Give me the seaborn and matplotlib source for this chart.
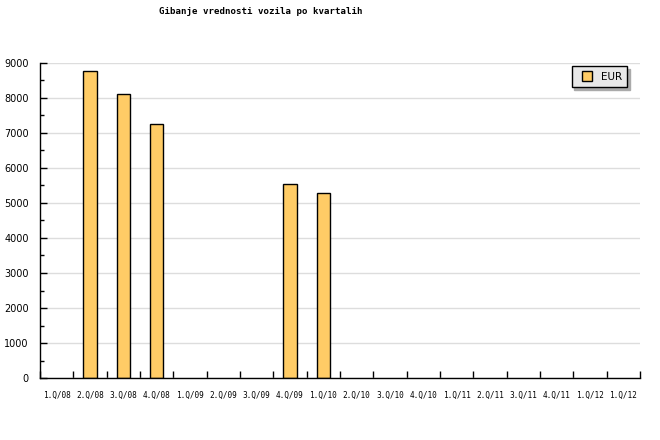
import matplotlib
matplotlib.use("Agg")
import matplotlib.pyplot as plt
import seaborn as sns
import numpy as np
import pandas as pd
from matplotlib.lines import Line2D
from matplotlib.ticker import MultipleLocator, FixedLocator

categories = ["1.Q/08", "2.Q/08", "3.Q/08", "4.Q/08", "1.Q/09", "2.Q/09", "3.Q/09",
              "4.Q/09", "1.Q/10", "2.Q/10", "3.Q/10", "4.Q/10", "1.Q/11", "2.Q/11",
              "3.Q/11", "4.Q/11", "1.Q/12", "1.Q/12"]
eur = [np.nan, 8780, 8115, 7255, np.nan, np.nan, np.nan,
       5535, 5275, np.nan, np.nan, np.nan, np.nan, np.nan,
       np.nan, np.nan, np.nan, np.nan]
series_name = "EUR"
title = "Gibanje vrednosti vozila po kvartalih"

sns.set_style("white")
plt.rcParams['font.family'] = ['DejaVu Sans']
plt.rcParams['text.color'] = 'black'
plt.rcParams['xtick.color'] = 'black'
plt.rcParams['ytick.color'] = 'black'

fig = plt.figure(figsize=(6.6, 4.4), dpi=100)
ax = fig.add_axes([40/660, (440-378)/440, 600/660, (378-63)/440])

df = pd.DataFrame({"pos": list(range(len(categories))), "val": eur})
bar_color = "#FFCC66"
sns.barplot(data=df, x="pos", y="val", order=list(range(len(categories))),
            color=bar_color, saturation=1, width=0.4, edgecolor="black",
            linewidth=1.0, ax=ax, errorbar=None)

ax.set_xlim(-0.5, len(categories) - 0.5)
ax.set_ylim(0, 9000)
ax.set_xlabel("")
ax.set_ylabel("")

# x: tick marks at boundaries, labels at centres
ax.xaxis.set_major_locator(FixedLocator(np.arange(-0.5, len(categories), 1.0)))
ax.xaxis.set_minor_locator(FixedLocator(np.arange(len(categories))))
ax.set_xticklabels([""] * (len(categories) + 1))
ax.set_xticklabels(categories, minor=True, fontfamily="DejaVu Sans Mono", fontsize=5.6)
ax.tick_params(axis="x", which="major", bottom=True, direction="in", length=5, width=1,
               color="black")
ax.tick_params(axis="x", which="minor", bottom=True, length=0, pad=9, labelcolor="black")

ax.yaxis.set_major_locator(MultipleLocator(1000))
ax.yaxis.set_minor_locator(MultipleLocator(500))
ax.tick_params(axis="y", which="major", left=True, direction="in", length=5, width=1,
               color="black", labelsize=7, pad=8, labelcolor="black")
ax.tick_params(axis="y", which="minor", left=True, direction="in", length=3, width=1,
               color="black")

ax.grid(axis="y", which="major", color="#dddddd", linewidth=1)
ax.set_axisbelow(True)
for s in ["top", "right"]:
    ax.spines[s].set_visible(False)
for s in ["left", "bottom"]:
    ax.spines[s].set_color("black")
    ax.spines[s].set_linewidth(1)

fig.text(261/660, 1 - 12/440, title, ha="center", va="center", color="black",
         fontfamily="DejaVu Sans Mono", fontweight="bold", fontsize=6.6)

handle = Line2D([], [], linestyle="none", marker="s", markersize=7.2,
                markerfacecolor=bar_color, markeredgecolor="black", markeredgewidth=1,
                label=series_name)
leg = fig.legend(handles=[handle],
                 loc="upper right", bbox_to_anchor=(627/660, 1 - 66.5/440),
                 frameon=True, fancybox=False, shadow={"color": "#aaaaaa", "alpha": 1},
                 fontsize=7.5, handlelength=2.0, handleheight=1.0, borderpad=0.5,
                 handletextpad=0.3, borderaxespad=0)
leg.get_frame().set_facecolor("#e8e8e8")
leg.get_frame().set_edgecolor("black")
leg.get_frame().set_linewidth(1)

fig.savefig("out.png", dpi=100)
